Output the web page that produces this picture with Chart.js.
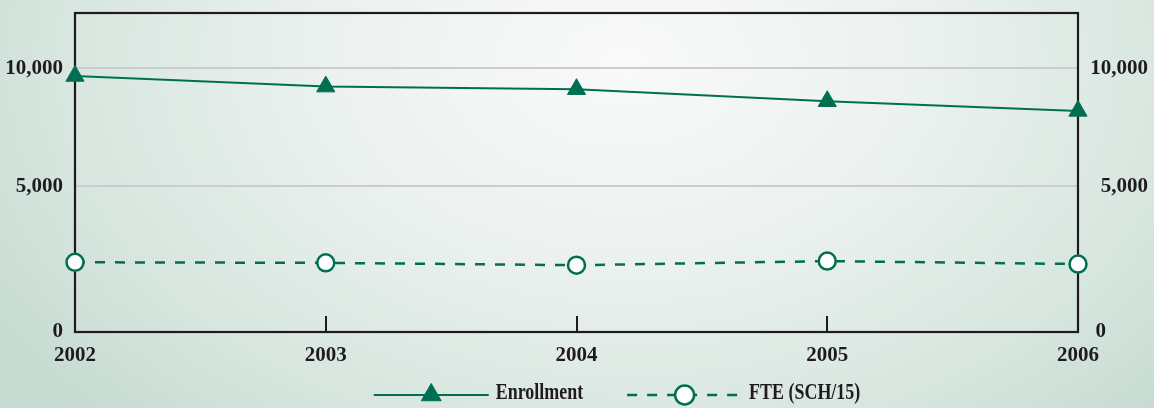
<!DOCTYPE html>
<html>
<head>
<meta charset="utf-8">
<title>Enrollment and FTE, 2002–2006</title>
<script src="https://cdn.jsdelivr.net/npm/chart.js@4.4.1/dist/chart.umd.min.js"></script>
<style>
  html, body { margin: 0; padding: 0; }
  body {
    width: 1154px;
    height: 408px;
    overflow: hidden;
    background: radial-gradient(ellipse 65% 125% at 54% 15%,
      #f9faf9 0%, #ebf1ee 40%, #d7e6df 75%, #c6dbd2 100%);
  }
  #wrap { position: relative; width: 1154px; height: 408px; }
  canvas { display: block; }
</style>
</head>
<body>
<div id="wrap"><canvas id="chart" width="1154" height="408"></canvas></div>
<script>
// ---- data ----
const years = ['2002', '2003', '2004', '2005', '2006'];
const enrollment = [9670, 9220, 9110, 8600, 8190];
const fte = [2390, 2370, 2290, 2430, 2330];
const yTickValues = [0, 5000, 10000];
const seriesNames = ['Enrollment', 'FTE (SCH/15)'];

// ---- styling ----
const GREEN = '#006f51';
const INK = '#1f1b1c';
const GRID = '#cbcccb';
const SERIF = '"Liberation Serif", "DejaVu Serif", serif';
const TICK_FONT = { family: SERIF, size: 21, weight: 'bold' };

// A linear axis whose 0–split band is drawn taller than the bands above it.
const LinearScale = Chart.registry.getScale('linear');
class SplitLinearScale extends LinearScale {
  _fwd(v) {
    const b = this.options.split, k = this.options.lowerStretch;
    return v <= b ? v * k : b * k + (v - b);
  }
  _inv(t) {
    const b = this.options.split, k = this.options.lowerStretch;
    return t <= b * k ? t / k : b + (t - b * k);
  }
  getPixelForValue(value) {
    const t0 = this._fwd(this.min), t1 = this._fwd(this.max);
    return this.getPixelForDecimal((this._fwd(value) - t0) / (t1 - t0));
  }
  getValueForPixel(pixel) {
    const t0 = this._fwd(this.min), t1 = this._fwd(this.max);
    return this._inv(t0 + this.getDecimalForPixel(pixel) * (t1 - t0));
  }
}
SplitLinearScale.id = 'splitLinear';
SplitLinearScale.defaults = LinearScale.defaults;
Chart.register(SplitLinearScale);

const fmt = v => v.toLocaleString('en-US');

// fixed axis thickness, no extra room reserved for overhanging labels
const fixWidth = w => s => { s.width = w; s.paddingTop = 0; s.paddingBottom = 0; };

const yShared = {
  type: 'splitLinear',
  min: 0,
  max: 12340,
  split: 5000,
  lowerStretch: 1.237,
  afterBuildTicks: s => { s.ticks = yTickValues.map(v => ({ value: v })); },
  border: { display: false },
};

// Frame around the plotting area
const plotFrame = {
  id: 'plotFrame',
  beforeDatasetsDraw(chart) {
    const { ctx, chartArea: a } = chart;
    ctx.save();
    ctx.strokeStyle = INK;
    ctx.lineWidth = 2.2;
    ctx.strokeRect(a.left, a.top, a.right - a.left, a.bottom - a.top);
    ctx.restore();
  }
};

// Legend: line sample with its marker, followed by the series name
// (set in a narrow, tall serif by squeezing the text horizontally)
const lineLegend = {
  id: 'lineLegend',
  afterDraw(chart, args, opts) {
    const ctx = chart.ctx;
    ctx.save();
    ctx.font = `bold ${opts.fontSize}px ${SERIF}`;
    const items = chart.data.datasets.map(ds => {
      const tw = ctx.measureText(ds.label).width * opts.squeeze;
      return { ds, tw, w: opts.sampleWidth + opts.textGap + tw };
    });
    const total = items.reduce((s, it) => s + it.w, 0) + opts.itemGap * (items.length - 1);
    let x = opts.centerX - total / 2;
    for (const { ds, w } of items) {
      const y = opts.y;
      ctx.strokeStyle = ds.borderColor;
      ctx.lineWidth = ds.borderWidth;
      ctx.setLineDash(ds.borderDash || []);
      ctx.beginPath();
      ctx.moveTo(x, y + 2);
      ctx.lineTo(x + opts.sampleWidth, y + 2);
      ctx.stroke();
      ctx.setLineDash([]);
      ctx.fillStyle = ds.pointBackgroundColor;
      ctx.strokeStyle = ds.pointBorderColor;
      ctx.lineWidth = ds.pointBorderWidth;
      Chart.helpers.drawPoint(ctx, {
        pointStyle: ds.pointStyle, radius: ds.pointRadius + 1,
        borderWidth: ds.pointBorderWidth, rotation: 0
      }, x + opts.sampleWidth / 2, y + 2);
      ctx.save();
      ctx.translate(x + opts.sampleWidth + opts.textGap, y);
      ctx.scale(opts.squeeze, 1);
      ctx.fillStyle = INK;
      ctx.textAlign = 'left';
      ctx.textBaseline = 'middle';
      ctx.fillText(ds.label, 0, 0);
      ctx.restore();
      x += w + opts.itemGap;
    }
    ctx.restore();
  }
};

new Chart(document.getElementById('chart'), {
  type: 'line',
  data: {
    labels: years,
    datasets: [
      {
        label: seriesNames[0],
        data: enrollment,
        borderColor: GREEN,
        borderWidth: 2,
        pointStyle: 'triangle',
        pointRadius: 10.5,
        pointBackgroundColor: GREEN,
        pointBorderColor: GREEN,
        pointBorderWidth: 1,
        tension: 0,
        clip: false,
      },
      {
        label: seriesNames[1],
        data: fte,
        borderColor: GREEN,
        borderWidth: 2.5,
        borderDash: [10, 10],
        pointStyle: 'circle',
        pointRadius: 8.5,
        pointBackgroundColor: '#ffffff',
        pointBorderColor: GREEN,
        pointBorderWidth: 2.5,
        tension: 0,
        clip: false,
      }
    ]
  },
  options: {
    responsive: false,
    animation: false,
    devicePixelRatio: 1,
    layout: { autoPadding: false, padding: { top: 13, left: 0, right: 6, bottom: 40 } },
    plugins: {
      legend: { display: false },
      tooltip: { enabled: false },
      lineLegend: {
        centerX: 617, y: 393, sampleWidth: 115, textGap: 7, itemGap: 44,
        fontSize: 23, squeeze: 0.78,
      },
    },
    scales: {
      x: {
        type: 'category',
        offset: false,
        afterFit: s => { s.height = 36; s.paddingLeft = 0; s.paddingRight = 0; },
        border: { display: false },
        grid: {
          drawOnChartArea: false,
          drawTicks: true,
          tickLength: -16,
          color: INK,
          lineWidth: 2,
        },
        ticks: { color: INK, font: TICK_FONT, padding: 27, maxRotation: 0, autoSkip: false },
      },
      y: {
        ...yShared,
        position: 'left',
        afterFit: fixWidth(75),
        grid: {
          drawTicks: false,
          lineWidth: 2,
          color: c => (c.tick && c.tick.value === 0 ? 'rgba(0,0,0,0)' : GRID),
        },
        ticks: { color: INK, font: TICK_FONT, padding: 12, callback: v => fmt(v) },
      },
      y2: {
        ...yShared,
        position: 'right',
        afterFit: fixWidth(70),
        grid: { drawOnChartArea: false, drawTicks: false },
        ticks: {
          color: INK, font: TICK_FONT, padding: 12, crossAlign: 'far',
          callback: v => (v === 0 ? fmt(v) + '\u2007\u2007\u2007\u2007' : fmt(v)),
        },
      },
    },
  },
  plugins: [plotFrame, lineLegend],
});
</script>
</body>
</html>
